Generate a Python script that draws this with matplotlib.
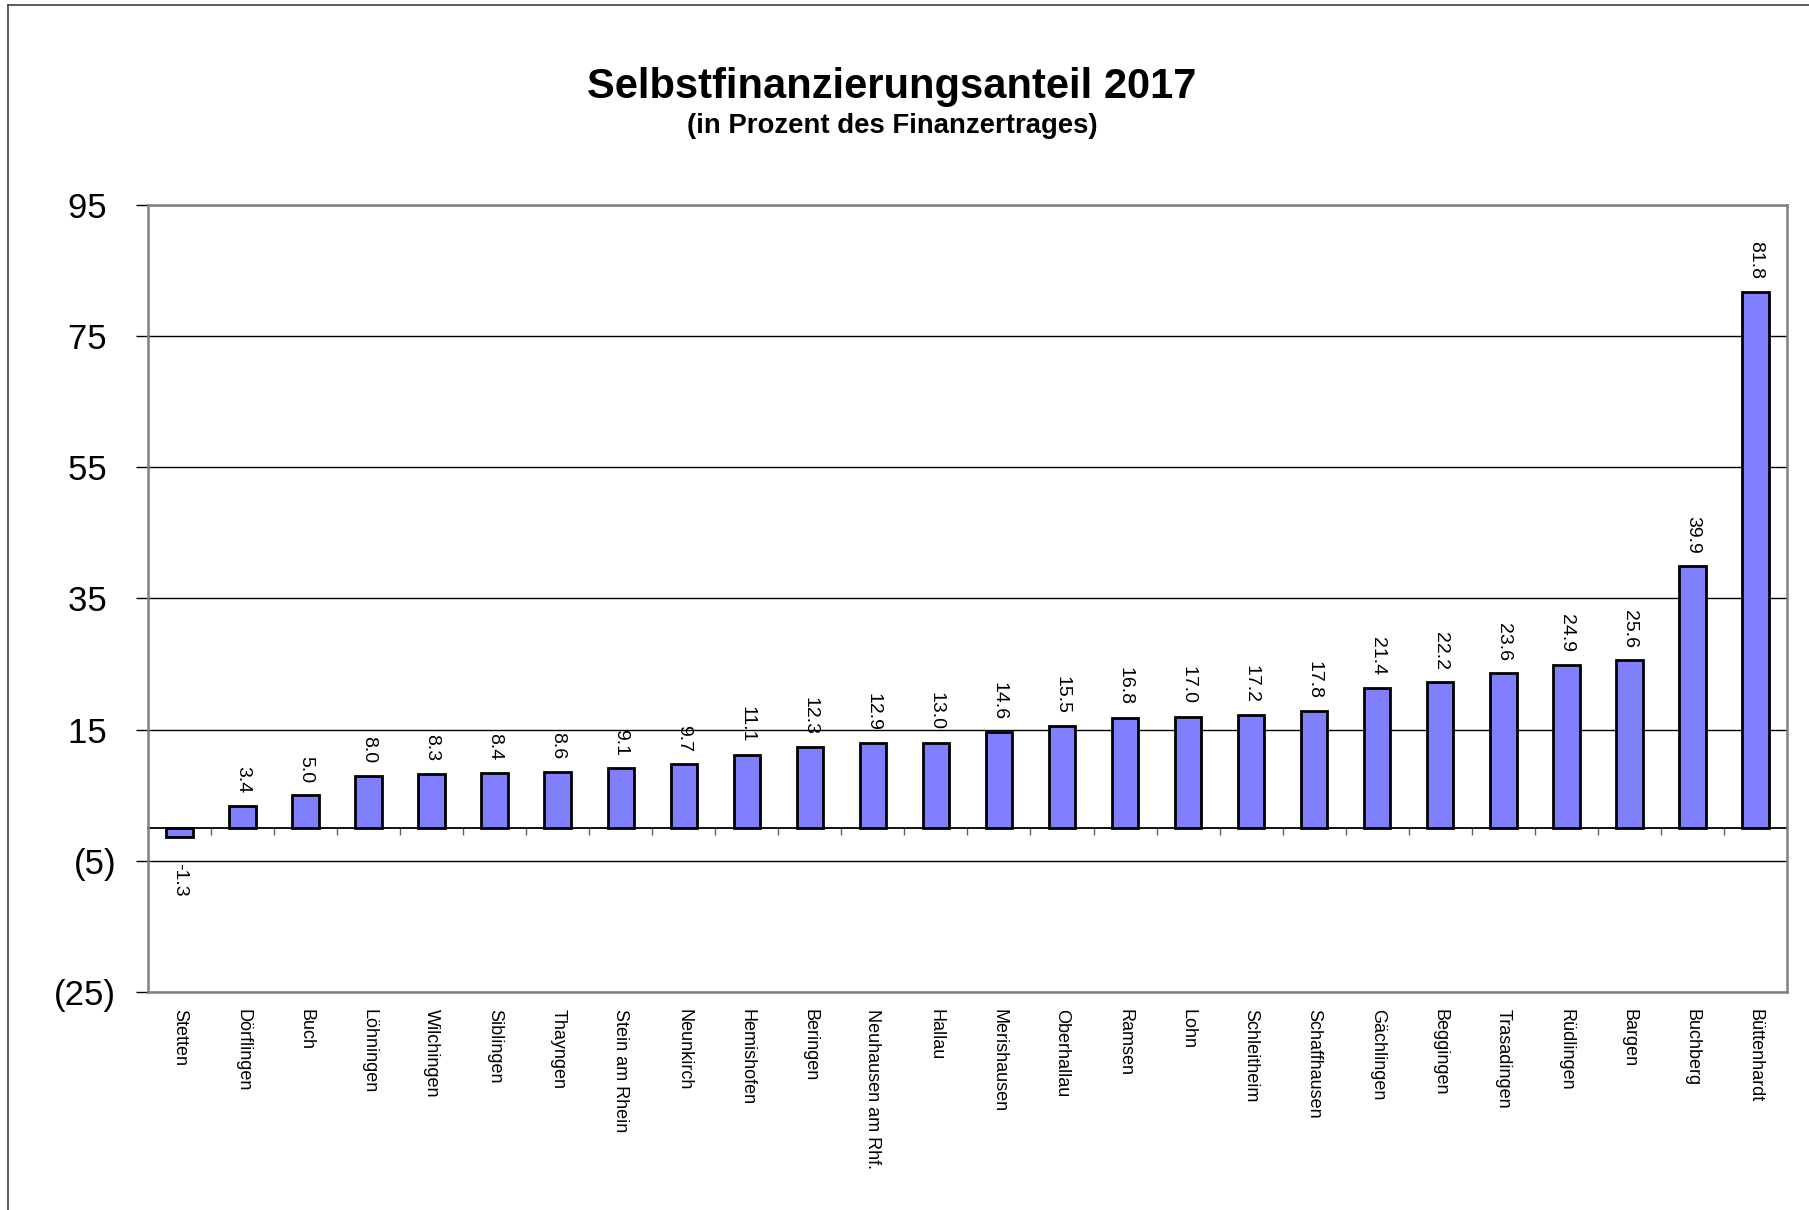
import matplotlib
matplotlib.use("Agg")
import matplotlib.pyplot as plt
from matplotlib.lines import Line2D
from matplotlib.ticker import FuncFormatter
import numpy as np

plt.rcParams['font.family'] = ['Liberation Sans', 'DejaVu Sans']

title = "Selbstfinanzierungsanteil 2017"
subtitle = "(in Prozent des Finanzertrages)"
municipalities = ["Stetten", "Dörflingen", "Buch", "Löhningen", "Wilchingen", "Siblingen",
                  "Thayngen", "Stein am Rhein", "Neunkirch", "Hemishofen", "Beringen",
                  "Neuhausen am Rhf.", "Hallau", "Merishausen", "Oberhallau", "Ramsen",
                  "Lohn", "Schleitheim", "Schaffhausen", "Gächlingen", "Beggingen",
                  "Trasadingen", "Rüdlingen", "Bargen", "Buchberg", "Büttenhardt"]
values = [-1.3, 3.4, 5.0, 8.0, 8.3, 8.4, 8.6, 9.1, 9.7, 11.1, 12.3, 12.9, 13.0, 14.6,
          15.5, 16.8, 17.0, 17.2, 17.8, 21.4, 22.2, 23.6, 24.9, 25.6, 39.9, 81.8]
y_ticks = [95, 75, 55, 35, 15, -5, -25]

fig = plt.figure(figsize=(18.09, 12.10), dpi=100)
ax = fig.add_axes([0.0818, 0.1802, 0.9878 - 0.0818, 0.8306 - 0.1802])

x = np.arange(len(municipalities))
ax.bar(x, values, width=0.42, color='#8080FF', edgecolor='black', linewidth=2, zorder=3)

ymin, ymax = min(y_ticks), max(y_ticks)
ax.set_xlim(-0.5, len(municipalities) - 0.5)
ax.set_ylim(ymin, ymax)

ax.set_yticks(y_ticks)
ax.yaxis.set_major_formatter(FuncFormatter(lambda v, p: f"({abs(int(v))})" if v < 0 else f"{int(v)} "))
ax.tick_params(axis='y', labelsize=25, length=9, width=1, color='black', pad=14)
ax.yaxis.grid(True, color='black', linewidth=1, zorder=1)
ax.set_axisbelow(True)

ax.set_xticks(x)
ax.set_xticklabels(municipalities, rotation=270, fontsize=13, va='top', ha='center')
ax.tick_params(axis='x', length=0, pad=12)

for s in ax.spines.values():
    s.set_color('#808080')
    s.set_linewidth(1.8)

# category axis at zero
sec = ax.secondary_xaxis((0 - ymin) / (ymax - ymin))
sec.set_xticks(np.arange(0.5, len(municipalities) - 0.5, 1.0))
sec.tick_params(axis='x', length=5, width=1, color='#606060', labelbottom=False, labeltop=False)
sec.spines['bottom'].set_color('black')
sec.spines['bottom'].set_linewidth(1.3)

for xi, v in zip(x, values):
    if v >= 0:
        ax.annotate(f"{v:.1f}", (xi, v), xytext=(0, 9), textcoords='offset points',
                    rotation=270, ha='center', va='bottom', fontsize=14, zorder=4)
    else:
        ax.annotate(f"{v:.1f}", (xi, v), xytext=(0, -19), textcoords='offset points',
                    rotation=270, ha='center', va='top', fontsize=14, zorder=4)

fig.text(0.493, 0.9285, title, ha='center', va='center', fontsize=30, fontweight='bold')
fig.text(0.493, 0.8955, subtitle, ha='center', va='center', fontsize=19.8, fontweight='bold')

# outer chart frame (top and left visible)
fig.add_artist(Line2D([8 / 1809, 1.0], [1 - 5 / 1210, 1 - 5 / 1210], transform=fig.transFigure,
                      color='#404040', linewidth=1.2))
fig.add_artist(Line2D([8 / 1809, 8 / 1809], [0.0, 1 - 5 / 1210], transform=fig.transFigure,
                      color='#404040', linewidth=1.2))

fig.savefig("out.png", dpi=100)
